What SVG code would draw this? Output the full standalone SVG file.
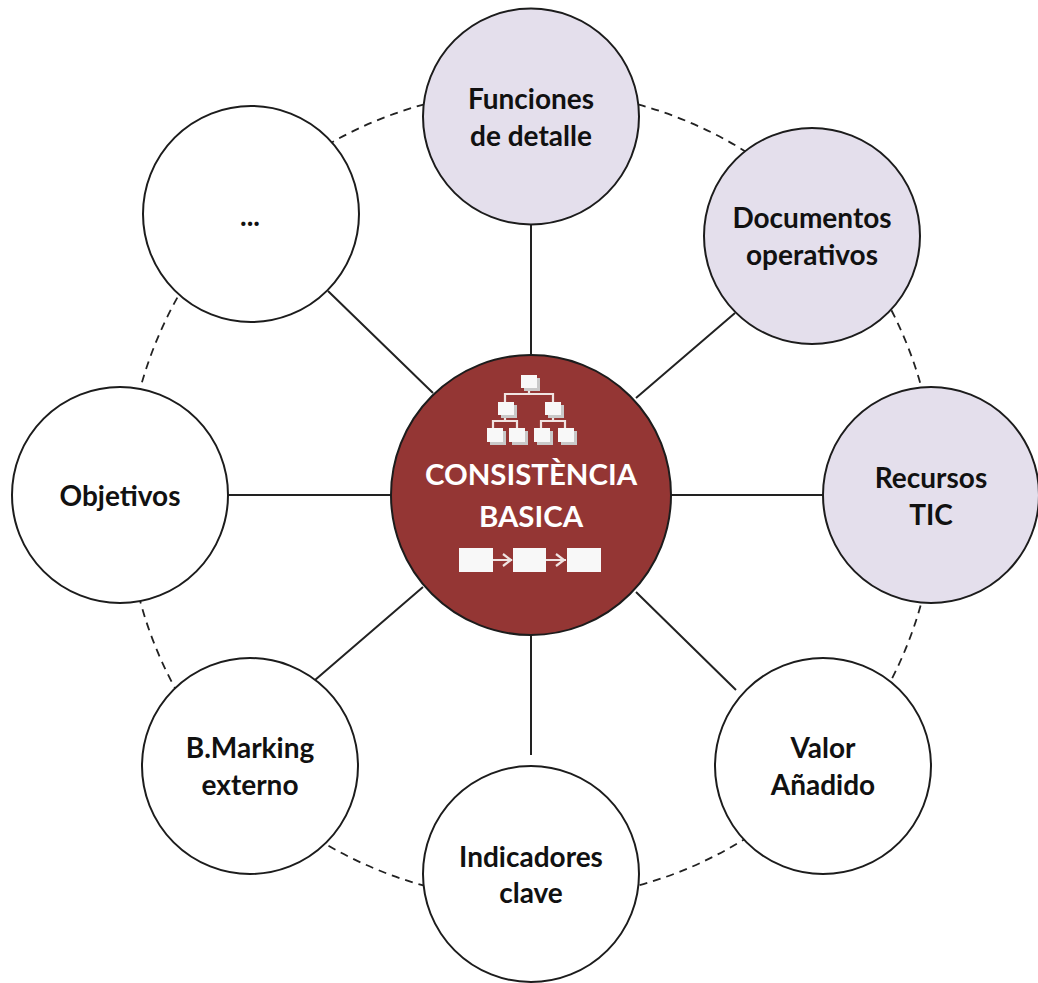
<svg xmlns="http://www.w3.org/2000/svg" width="1038" height="983" viewBox="0 0 1038 983">
<defs>
<style>
.n{stroke:#1c1c1c;stroke-width:2}
.w{fill:#fff}
.l{fill:#e4dfec}
.c{fill:#943634}
.t{font-family:"Lato","Liberation Sans",sans-serif;font-weight:700;font-size:28px;fill:#111;text-anchor:middle}
.h{font-family:"Lato","Liberation Sans",sans-serif;font-weight:700;font-size:29.400px;fill:#fff;text-anchor:middle}
.s{fill:none;stroke:#222;stroke-width:2}
.d{fill:none;stroke:#222;stroke-width:1.800;stroke-dasharray:8 6}
.b{fill:#f8f8f8}
.g{fill:#c9c9c9}
.il{fill:none;stroke:#f0e4e2;stroke-width:2.200}
</style>
</defs>
<rect width="1038" height="983" fill="#fff"/>
<g id="connectors">
<circle class="d" cx="531" cy="495" r="405"/>
<path class="s" d="M531 224V355M735 313L636 398M670 495H823M636 592L736 690M531 635V755M228 495H391M315 680L423 587M328 291L433 393"/>
</g>
<g id="node-funciones"><circle class="n l" cx="531" cy="116.500" r="108"/><text class="t" x="531" y="109">Funciones</text><text class="t" x="531" y="146">de detalle</text></g>
<g id="node-documentos"><circle class="n l" cx="812" cy="236" r="108"/><text class="t" x="812" y="228">Documentos</text><text class="t" x="812" y="265">operativos</text></g>
<g id="node-recursos"><circle class="n l" cx="931" cy="495" r="108"/><text class="t" x="931" y="488">Recursos</text><text class="t" x="931" y="525">TIC</text></g>
<g id="node-valor"><circle class="n w" cx="823" cy="766" r="108"/><text class="t" x="823" y="758">Valor</text><text class="t" x="823" y="795">Añadido</text></g>
<g id="node-indicadores"><circle class="n w" cx="531" cy="874" r="108"/><text class="t" x="531" y="867">Indicadores</text><text class="t" x="531" y="903">clave</text></g>
<g id="node-bmarking"><circle class="n w" cx="250" cy="766" r="108"/><text class="t" x="250" y="758">B.Marking</text><text class="t" x="250" y="795">externo</text></g>
<g id="node-objetivos"><circle class="n w" cx="120" cy="495" r="108"/><text class="t" x="120" y="506">Objetivos</text></g>
<g id="node-more"><circle class="n w" cx="251" cy="214" r="108"/><text class="t" x="250" y="226">...</text></g>
<g id="node-center">
<circle class="n c" cx="531" cy="495" r="140"/>
<path class="il" d="M529 388V394M505 402V394H553V402M505 415V421M553 415V421M493 428V421H517V428M541 428V421H565V428"/>
<g class="g"><rect x="524" y="378" width="16" height="13"/><rect x="501" y="405" width="16" height="13"/><rect x="548" y="405" width="16" height="13"/><rect x="490" y="431" width="16" height="14"/><rect x="512" y="431" width="16" height="14"/><rect x="537" y="431" width="16" height="14"/><rect x="561" y="431" width="16" height="14"/></g>
<g class="b"><rect x="521" y="375" width="16" height="13"/><rect x="498" y="402" width="16" height="13"/><rect x="545" y="402" width="16" height="13"/><rect x="487" y="428" width="16" height="14"/><rect x="509" y="428" width="16" height="14"/><rect x="534" y="428" width="16" height="14"/><rect x="558" y="428" width="16" height="14"/></g>
<text class="h" x="531" y="485">CONSISTÈNCIA</text><text class="h" x="531" y="527">BASICA</text>
<path class="il" d="M493 560H512M503 554L511 560L503 566M546 560H566M556 554L564 560L556 566"/>
<g class="b"><rect x="459" y="548" width="34" height="24"/><rect x="513" y="548" width="33" height="24"/><rect x="567" y="548" width="34" height="24"/></g>
</g>
</svg>
